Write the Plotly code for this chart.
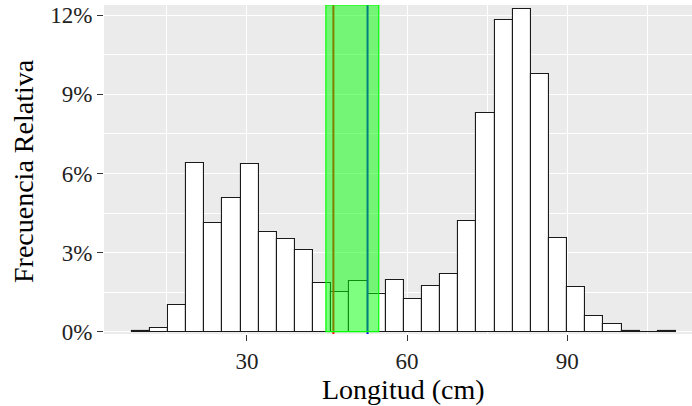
import plotly.graph_objects as go

# Histogram bins (centers in cm) and relative frequencies (%)
bin_centers = [10.1, 13.5, 16.9, 20.3, 23.7, 27.1, 30.5, 33.9, 37.3, 40.7,
               44.1, 47.5, 50.9, 54.3, 57.7, 61.1, 64.5, 67.9, 71.3, 74.7,
               78.1, 81.5, 84.9, 88.3, 91.7, 95.1, 98.5, 101.9, 105.3, 108.7]
rel_freq = [0.03, 0.13, 1.02, 6.40, 4.14, 5.08, 6.36, 3.79, 3.51, 3.08,
            1.86, 1.52, 1.92, 1.43, 1.96, 1.25, 1.74, 2.19, 4.18, 8.31,
            11.82, 12.22, 9.79, 3.56, 1.70, 0.58, 0.28, 0.03, 0.0, 0.03]
bin_width = 3.4

# Reference lines and interval
red_line = 46.2
blue_line = 52.6
interval = [44.8, 54.7]

x_ticks = [30, 60, 90]
y_ticks = [0, 3, 6, 9, 12]
y_tick_labels = ["0%", "3%", "6%", "9%", "12%"]

x_range = [3.23, 113.38]
y_range = [-0.087, 12.39]

fig = go.Figure()
fig.add_trace(go.Bar(
    x=bin_centers, y=rel_freq, width=bin_width,
    marker=dict(color="white", line=dict(color="#1a1a1a", width=1.1)),
    showlegend=False, hoverinfo="x+y"))

fig.add_shape(type="line", xref="x", yref="paper", x0=red_line, x1=red_line,
              y0=0, y1=1, line=dict(color="#FF0000", width=2), layer="above")
fig.add_shape(type="line", xref="x", yref="paper", x0=blue_line, x1=blue_line,
              y0=0, y1=1, line=dict(color="#0000FF", width=2), layer="above")
fig.add_shape(type="rect", xref="x", yref="y", x0=interval[0], x1=interval[1],
              y0=0, y1=y_range[1], fillcolor="rgba(0,255,0,0.5)",
              line=dict(color="#00FF00", width=1.2), layer="above")

tick_font = dict(family="Liberation Serif", size=23, color="#222222")
title_font = dict(family="Liberation Serif", size=28, color="black")

fig.add_annotation(text="Longitud (cm)", xref="paper", yref="paper",
                   x=0.510, y=-0.170, xanchor="center", yanchor="middle",
                   showarrow=False, font=title_font)
fig.add_annotation(text="Frecuencia Relativa", xref="paper", yref="paper",
                   x=-0.1378, y=0.4954, xanchor="center", yanchor="middle",
                   textangle=-90, showarrow=False, font=title_font)

fig.update_layout(
    width=692, height=406, autosize=False,
    margin=dict(l=104, r=0, t=5, b=72),
    paper_bgcolor="white", plot_bgcolor="#EBEBEB",
    bargap=0,
    font=dict(family="Liberation Serif"),
    xaxis=dict(
        range=x_range, tickvals=x_ticks, ticks="outside", ticklen=6,
        tickwidth=1.3, tickcolor="#333333", tickfont=tick_font,
        showgrid=True, gridcolor="white", gridwidth=1.4, zeroline=False,
        minor=dict(tickvals=[15, 45, 75, 105], showgrid=True,
                   gridcolor="white", gridwidth=0.7, ticks=""),
        automargin=False, showline=False),
    yaxis=dict(
        range=y_range, tickvals=y_ticks, ticktext=y_tick_labels,
        ticks="outside", ticklen=6, tickwidth=1.3, tickcolor="#333333",
        tickfont=tick_font, showgrid=True, gridcolor="white", gridwidth=1.4,
        zeroline=False,
        minor=dict(tickvals=[1.5, 4.5, 7.5, 10.5], showgrid=True,
                   gridcolor="white", gridwidth=0.7, ticks=""),
        automargin=False, showline=False),
)

fig.write_html(
    "out.html",
    config={"displayModeBar": False},
    post_script="document.body.style.margin='0';document.body.style.padding='0';"
                "document.body.style.overflow='hidden';",
)
